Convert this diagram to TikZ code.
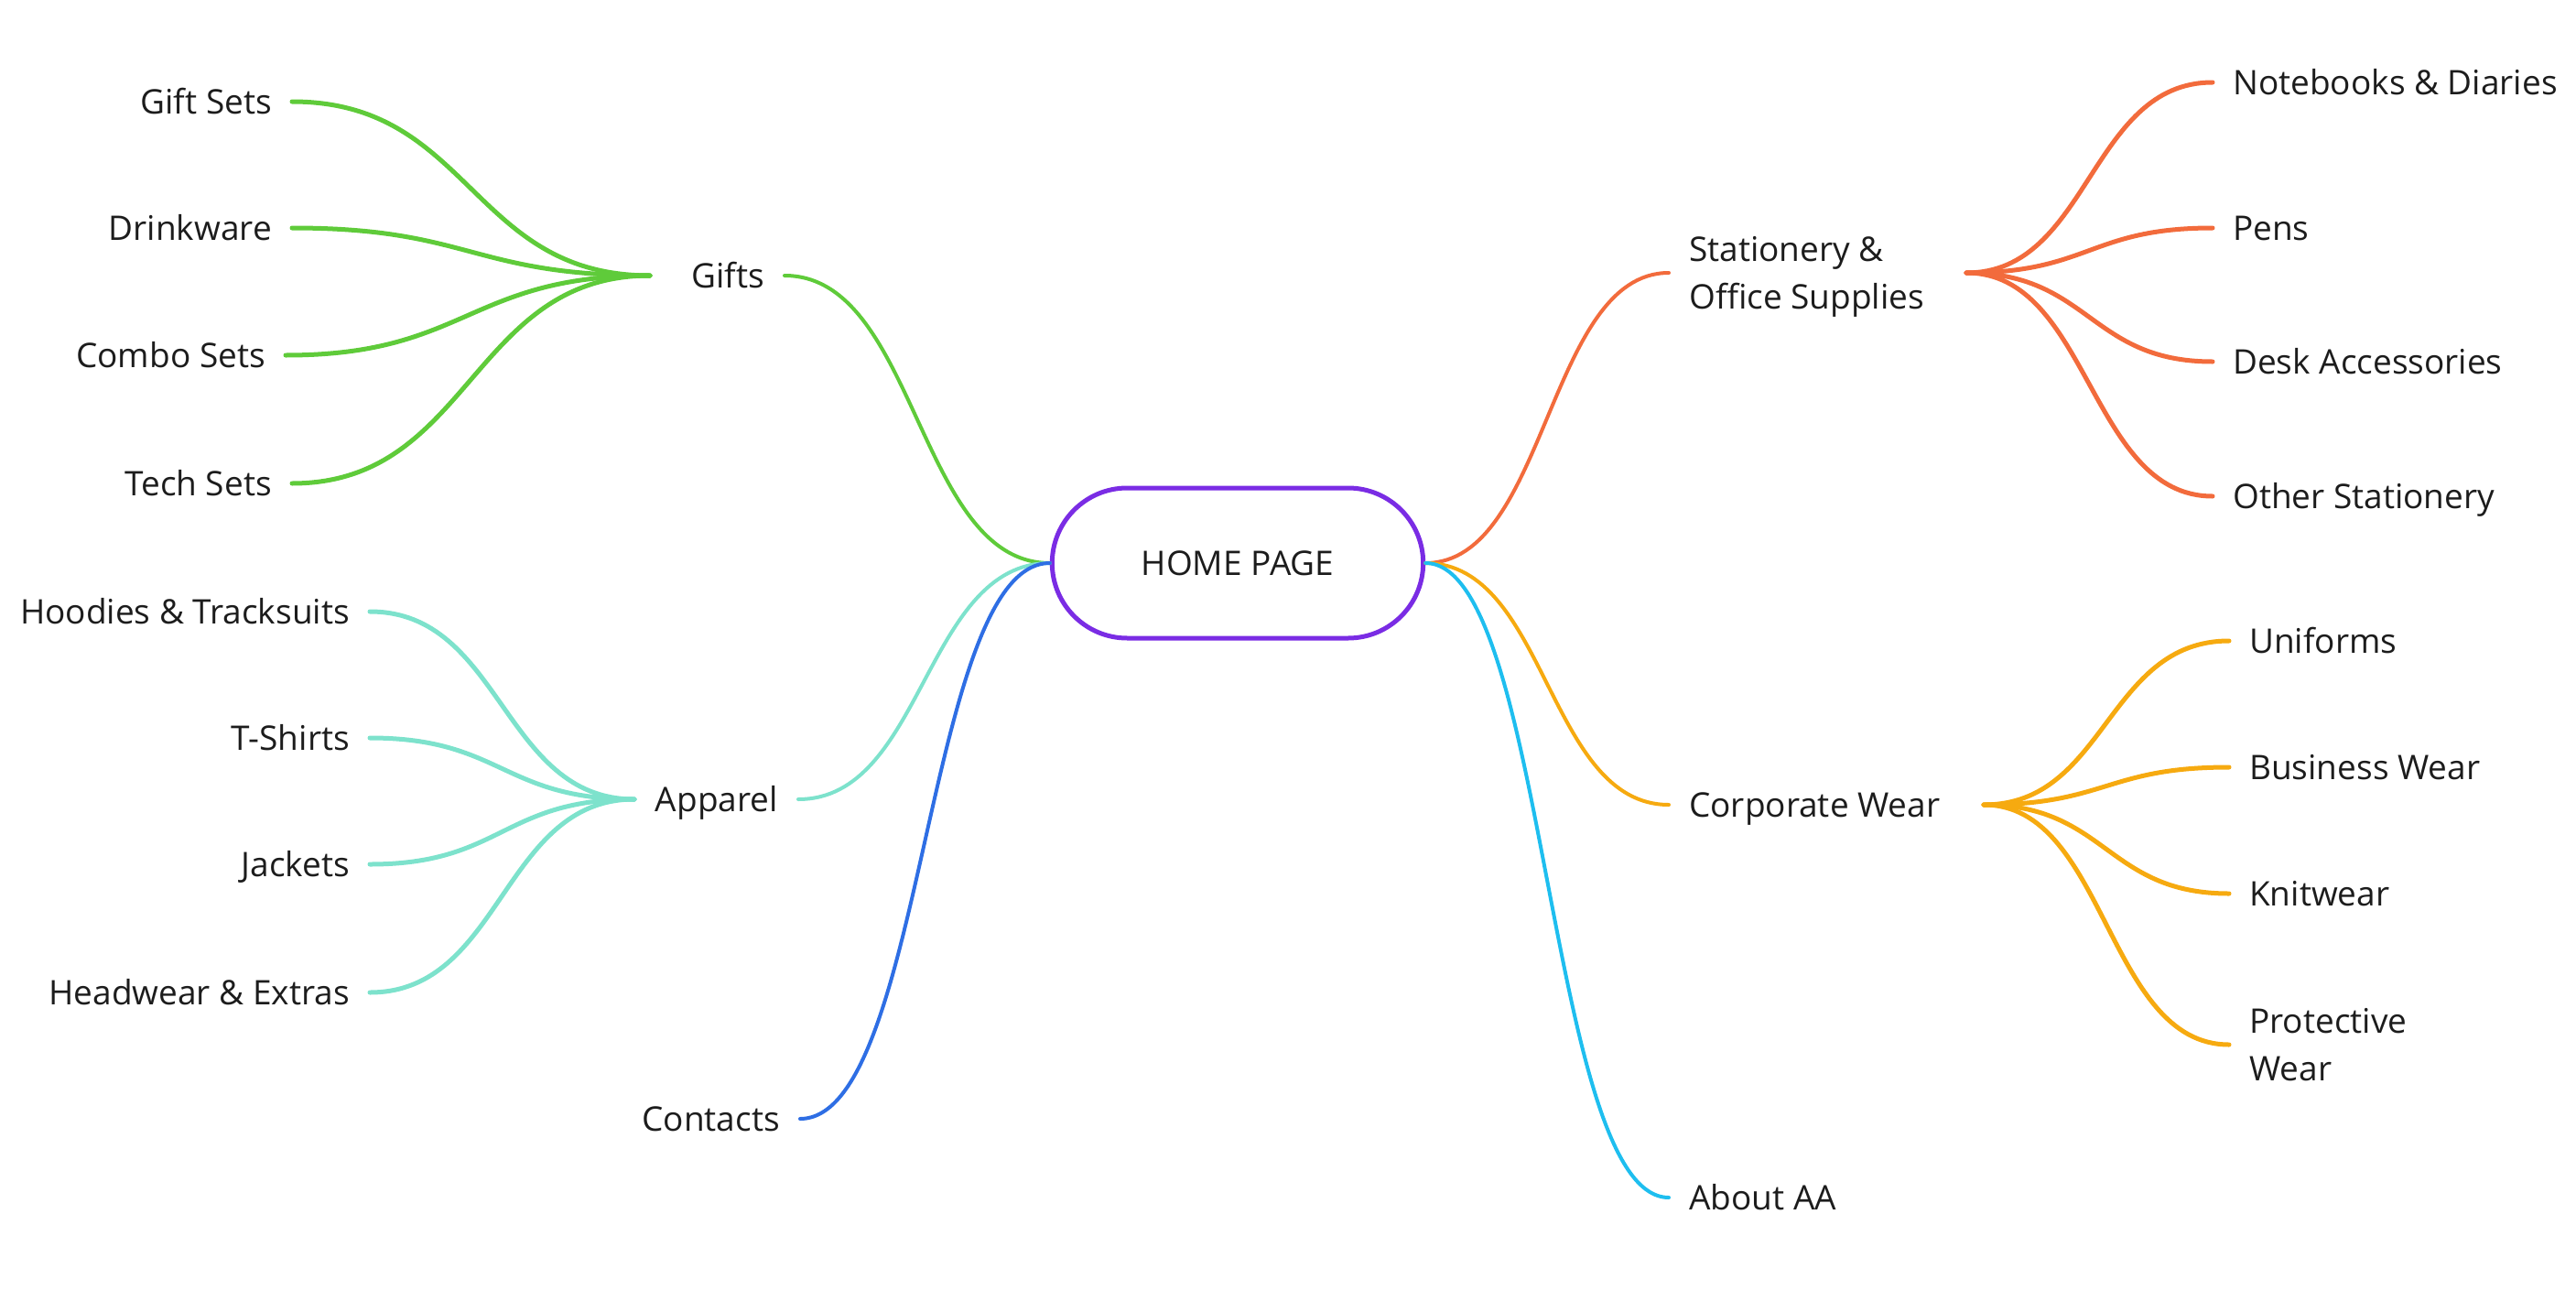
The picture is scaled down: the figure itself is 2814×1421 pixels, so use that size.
\documentclass[tikz,border=0pt]{standalone}
\usepackage{fontspec}
\setmainfont{Open Sans}
\usetikzlibrary{shapes.misc,calc}
\definecolor{ink}{HTML}{1C1C1C}
\definecolor{cpurple}{HTML}{7A2CE4}
\definecolor{cgreen}{HTML}{5FCB3A}
\definecolor{cteal}{HTML}{7DE2CC}
\definecolor{cblue}{HTML}{2E6EE4}
\definecolor{corange}{HTML}{F26B3C}
\definecolor{camber}{HTML}{F6AA10}
\definecolor{ccyan}{HTML}{1EBEEF}
\tikzset{
  txt/.style={font=\fontsize{37}{52}\selectfont, text=ink},
  lbl/.style={txt, inner xsep=22pt, inner ysep=0pt, text height=26.4pt, text depth=0pt},
  lbltwo/.style={txt, inner xsep=22pt, inner ysep=0pt, align=left},
  curve/.style={line cap=round, to path={let \p1=(\tikztostart), \p2=(\tikztotarget) in
     .. controls ({0.5*\x1+0.5*\x2},\y1) and ({0.5*\x1+0.5*\x2},\y2) .. (\tikztotarget)}},
  brone/.style={curve, line width=4pt},
  brtwo/.style={curve, line width=5pt},
}
\begin{document}
\begin{tikzpicture}[x=1pt,y=-1pt]
\useasboundingbox (0,0) rectangle (2814,1421);

% centre
\node[rounded rectangle, draw=cpurple, line width=5pt, minimum width=412pt, minimum height=164pt, txt] (home) at (1352,615) {HOME PAGE};

% first level, left
\node[lbl, anchor=east] (gifts) at (857,301) {Gifts};
\node[lbl, anchor=east] (apparel) at (872,873) {Apparel};
\node[lbl, anchor=east] (contacts) at (874,1222) {Contacts};
% first level, right
\node[lbltwo, anchor=west] (stationery) at (1823,298) {Stationery \&\\\smash{Office Supplies}};
\node[lbl, anchor=west] (corporate) at (1823,879) {Corporate Wear};
\node[lbl, anchor=west] (about) at (1823,1308) {About AA};

% hubs
\coordinate (gifthub) at (710,301);
\coordinate (apparelhub) at (693,873);
\coordinate (stathub) at (2148,298);
\coordinate (corphub) at (2167,879);

% leaves, gifts
\node[lbl, anchor=east] (giftsets) at (319,111) {Gift Sets};
\node[lbl, anchor=east] (drinkware) at (319,249) {Drinkware};
\node[lbl, anchor=east] (combosets) at (312,388) {Combo Sets};
\node[lbl, anchor=east] (techsets) at (319,528) {Tech Sets};
% leaves, apparel
\node[lbl, anchor=east] (hoodies) at (404,668) {Hoodies \& Tracksuits};
\node[lbl, anchor=east] (tshirts) at (404,806) {T-Shirts};
\node[lbl, anchor=east] (jackets) at (404,944) {Jackets};
\node[lbl, anchor=east] (headwear) at (404,1084) {Headwear \& Extras};
% leaves, stationery
\node[lbl, anchor=west] (notebooks) at (2417,90) {Notebooks \& Diaries};
\node[lbl, anchor=west] (pens) at (2417,249) {Pens};
\node[lbl, anchor=west] (desk) at (2417,395) {Desk Accessories};
\node[lbl, anchor=west] (otherst) at (2417,542) {Other Stationery};
% leaves, corporate
\node[lbl, anchor=west] (uniforms) at (2435,700) {Uniforms};
\node[lbl, anchor=west] (business) at (2435,838) {Business Wear};
\node[lbl, anchor=west] (knitwear) at (2435,976) {Knitwear};
\node[lbltwo, anchor=west] (protective) at (2435,1141) {Protective\\Wear};

% first-level connectors
\draw[brone, cgreen] (home.west) to (gifts.east);
\draw[brone, cteal] (home.west) to (apparel.east);
\draw[brone, cblue] (home.west) to (contacts.east);
\draw[brone, corange] (home.east) to (stationery.west);
\draw[brone, camber] (home.east) to (corporate.west);
\draw[brone, ccyan] (home.east) to (about.west);

% second-level connectors
\foreach \lf in {giftsets,drinkware,combosets,techsets}
  \draw[brtwo, cgreen] (gifthub) to (\lf.east);
\foreach \lf in {hoodies,tshirts,jackets,headwear}
  \draw[brtwo, cteal] (apparelhub) to (\lf.east);
\foreach \lf in {notebooks,pens,desk,otherst}
  \draw[brtwo, corange] (stathub) to (\lf.west);
\foreach \lf in {uniforms,business,knitwear,protective}
  \draw[brtwo, camber] (corphub) to (\lf.west);
\end{tikzpicture}
\end{document}
